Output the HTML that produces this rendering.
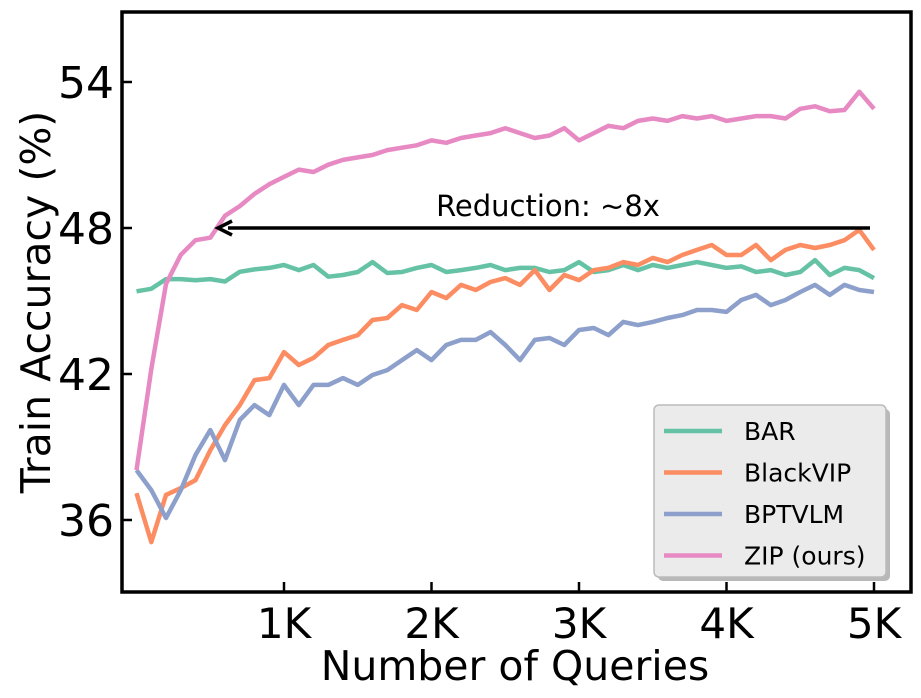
<!DOCTYPE html>
<html><head><meta charset="utf-8"><style>
body{margin:0;background:#fff;}
svg{display:block;font-family:"DejaVu Sans","Liberation Sans",sans-serif;}
</style></head><body>
<svg id="chart" width="921" height="698" viewBox="0 0 921 698" xmlns="http://www.w3.org/2000/svg">
<g id="lines"></g>
<rect x="122" y="12" width="789" height="580" fill="none" stroke="#000" stroke-width="3.5"/>
<g id="axes"></g>
<text x="50" y="302" font-size="41" text-anchor="middle" transform="rotate(-90 50 302)">Train Accuracy (%)</text>
<text x="515" y="680" font-size="41" text-anchor="middle">Number of Queries</text>
<g>
<line x1="870" y1="228" x2="228" y2="228" stroke="#000" stroke-width="3.5"/>
<path d="M232,221 L218,228 L232,235" fill="none" stroke="#000" stroke-width="3.5"/>
<text x="548" y="216" font-size="29" text-anchor="middle">Reduction: ~8x</text>
</g>
<g>
<rect x="658" y="409" width="232" height="172" rx="5" fill="#888" opacity="0.6"/>
<rect x="654" y="405" width="232" height="172" rx="5" fill="#ebebeb" stroke="#bbb" stroke-width="1.5"/>
<g id="legend-items"></g>
</g>
</svg>
<script>
const queries=[0,100,200,300,400,500,600,700,800,900,1000,1100,1200,1300,1400,1500,1600,1700,1800,1900,2000,2100,2200,2300,2400,2500,2600,2700,2800,2900,3000,3100,3200,3300,3400,3500,3600,3700,3800,3900,4000,4100,4200,4300,4400,4500,4600,4700,4800,4900,5000];
const barValues=[45.4,45.5,45.9,45.9,45.85,45.9,45.8,46.2,46.3,46.36,46.48,46.27,46.48,46.0,46.07,46.19,46.6,46.15,46.19,46.36,46.48,46.19,46.27,46.36,46.48,46.27,46.36,46.36,46.19,46.27,46.6,46.19,46.27,46.48,46.27,46.48,46.36,46.48,46.6,46.48,46.36,46.42,46.19,46.27,46.07,46.19,46.68,46.07,46.36,46.27,45.94];
const blackvipValues=[37.1,35.09,37.03,37.31,37.64,38.87,39.9,40.72,41.75,41.83,42.9,42.37,42.66,43.19,43.4,43.6,44.22,44.3,44.83,44.63,45.37,45.12,45.66,45.45,45.78,45.94,45.66,46.27,45.45,46.07,45.86,46.27,46.36,46.6,46.48,46.77,46.6,46.89,47.1,47.3,46.89,46.89,47.3,46.68,47.1,47.3,47.18,47.3,47.5,47.92,47.1];
const bptvlmValues=[38.05,37.23,36.08,37.23,38.67,39.7,38.46,40.11,40.72,40.31,41.55,40.72,41.55,41.55,41.83,41.55,41.96,42.16,42.57,42.98,42.57,43.19,43.4,43.4,43.72,43.19,42.57,43.4,43.48,43.19,43.81,43.89,43.6,44.14,44.01,44.14,44.3,44.42,44.63,44.63,44.55,45.04,45.25,44.83,45.04,45.37,45.66,45.25,45.66,45.45,45.37];
const zipValues=[38.05,42.2,45.7,46.9,47.5,47.6,48.5,48.9,49.4,49.8,50.1,50.4,50.3,50.6,50.8,50.9,51.0,51.2,51.3,51.4,51.6,51.5,51.7,51.8,51.9,52.1,51.9,51.7,51.8,52.1,51.6,51.9,52.2,52.1,52.4,52.5,52.4,52.6,52.5,52.6,52.4,52.5,52.6,52.6,52.5,52.9,53.0,52.8,52.85,53.6,52.9];
const seriesNames=["BAR","BlackVIP","BPTVLM","ZIP (ours)"];
const yTicks=[36,42,48,54];
const xTicks=[1000,2000,3000,4000,5000];
const xTickLabels=["1K","2K","3K","4K","5K"];

const NS="http://www.w3.org/2000/svg";
const colors=["#66c2a5","#fc8d62","#8da0cb","#e78ac3"];
function xs(q){return 136.5+q*0.1475;}
function ys(v){return 82+(54-v)*24.333;}
const allSeries=[barValues,blackvipValues,bptvlmValues,zipValues];
const lines=document.getElementById('lines');
allSeries.forEach((vals,i)=>{
  const p=document.createElementNS(NS,'polyline');
  p.setAttribute('points',vals.map((v,j)=>xs(queries[j]).toFixed(1)+','+ys(v).toFixed(1)).join(' '));
  p.setAttribute('fill','none');p.setAttribute('stroke',colors[i]);
  p.setAttribute('stroke-width','4.5');p.setAttribute('stroke-linejoin','round');
  
  
  lines.appendChild(p);
});
const axes=document.getElementById('axes');
yTicks.forEach(t=>{
  const y=ys(t);
  const l=document.createElementNS(NS,'line');
  l.setAttribute('x1',122);l.setAttribute('x2',132);l.setAttribute('y1',y);l.setAttribute('y2',y);
  l.setAttribute('stroke','#000');l.setAttribute('stroke-width','2.5');
  
  
  axes.appendChild(l);
  const tx=document.createElementNS(NS,'text');
  tx.setAttribute('x',114);tx.setAttribute('y',y+16);tx.setAttribute('text-anchor','end');tx.setAttribute('font-size','44');
  tx.textContent=t;
  
  
  axes.appendChild(tx);
});
xTicks.forEach((t,i)=>{
  const x=xs(t);
  const l=document.createElementNS(NS,'line');
  l.setAttribute('x1',x);l.setAttribute('x2',x);l.setAttribute('y1',582);l.setAttribute('y2',592);
  l.setAttribute('stroke','#000');l.setAttribute('stroke-width','2.5');
  
  
  axes.appendChild(l);
  const tx=document.createElementNS(NS,'text');
  tx.setAttribute('x',x);tx.setAttribute('y',638);tx.setAttribute('text-anchor','middle');tx.setAttribute('font-size','42');
  tx.textContent=xTickLabels[i];
  
  
  axes.appendChild(tx);
});
const leg=document.getElementById('legend-items');
seriesNames.forEach((n,i)=>{
  const y=431+i*41.5;
  const g=document.createElementNS(NS,'g');
  
  
  const l=document.createElementNS(NS,'line');
  l.setAttribute('x1',664);l.setAttribute('x2',722);l.setAttribute('y1',y);l.setAttribute('y2',y);
  l.setAttribute('stroke',colors[i]);l.setAttribute('stroke-width','4.5');
  g.appendChild(l);
  const t=document.createElementNS(NS,'text');
  t.setAttribute('x',744);t.setAttribute('y',y+9);t.setAttribute('font-size','25');
  t.textContent=n;
  g.appendChild(t);
  leg.appendChild(g);
});
</script>
</body></html>
